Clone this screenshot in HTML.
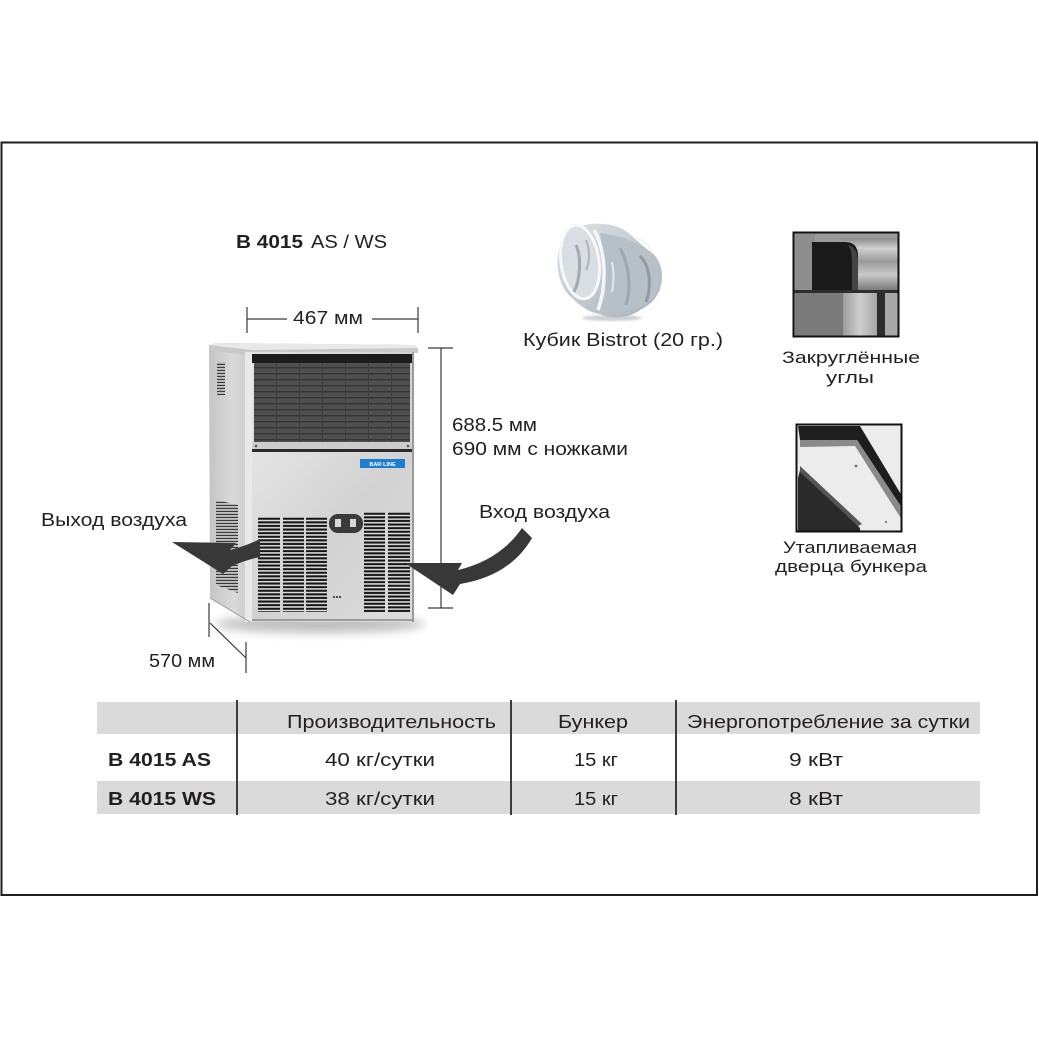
<!DOCTYPE html>
<html><head><meta charset="utf-8">
<style>
html,body{margin:0;padding:0;background:#fff;}
svg{display:block;}
text{font-family:"Liberation Sans","DejaVu Sans",sans-serif;fill:#231f20;}
</style></head><body>
<svg width="1039" height="1039" viewBox="0 0 1039 1039" xmlns="http://www.w3.org/2000/svg">
<defs>
  <pattern id="slat" width="10" height="3.6" patternUnits="userSpaceOnUse" y="517">
    <rect width="10" height="3.6" fill="#e2e2e2"/><rect y="0.7" width="10" height="2.1" fill="#141414"/>
  </pattern>
  <pattern id="slat2" width="10" height="3.6" patternUnits="userSpaceOnUse" y="512">
    <rect width="10" height="3.6" fill="#e2e2e2"/><rect y="0.7" width="10" height="2.1" fill="#141414"/>
  </pattern>
  <pattern id="svent" width="10" height="3" patternUnits="userSpaceOnUse">
    <rect width="10" height="3" fill="#cfcfcf"/><rect y="0.8" width="10" height="1.3" fill="#3a3a3a"/>
  </pattern>
  <pattern id="grill" width="23" height="6" patternUnits="userSpaceOnUse" x="254" y="363">
    <rect width="23" height="6" fill="#4f4f4f"/>
    <rect y="4" width="23" height="1.4" fill="#343434"/>
    <rect x="22" width="1" height="6" fill="#3c3c3c"/>
  </pattern>
  <linearGradient id="side" x1="0" x2="1" y1="0" y2="0">
    <stop offset="0" stop-color="#c4c4c4"/><stop offset="0.6" stop-color="#dadada"/><stop offset="1" stop-color="#c9c9c9"/>
  </linearGradient>
  <linearGradient id="front" x1="0" x2="1" y1="0" y2="1">
    <stop offset="0" stop-color="#e4e4e4"/><stop offset="0.5" stop-color="#d2d2d2"/><stop offset="1" stop-color="#dcdcdc"/>
  </linearGradient>
  <linearGradient id="ice" x1="0" x2="1" y1="0" y2="1">
    <stop offset="0" stop-color="#dfe4e8"/><stop offset="0.5" stop-color="#c2cad0"/><stop offset="1" stop-color="#aab3ba"/>
  </linearGradient>
  <linearGradient id="steel" x1="0" x2="0" y1="0" y2="1">
    <stop offset="0" stop-color="#8a8a8a"/><stop offset="0.2" stop-color="#d0d0d0"/><stop offset="0.45" stop-color="#9a9a9a"/><stop offset="0.7" stop-color="#c8c8c8"/><stop offset="1" stop-color="#7c7c7c"/>
  </linearGradient>
  <linearGradient id="steelv" x1="0" x2="1" y1="0" y2="0">
    <stop offset="0" stop-color="#9c9c9c"/><stop offset="0.5" stop-color="#cfcfcf"/><stop offset="1" stop-color="#a6a6a6"/>
  </linearGradient>
  <filter id="blur" x="-20%" y="-50%" width="140%" height="200%"><feGaussianBlur stdDeviation="5"/></filter>
  <filter id="sblur"><feGaussianBlur stdDeviation="1"/></filter>
</defs>

<!-- outer frame -->
<rect x="1.5" y="142.5" width="1035.5" height="752.5" fill="none" stroke="#1e1e1e" stroke-width="2"/>

<!-- Title -->
<text x="236" y="248" font-size="18" font-weight="bold" textLength="67" lengthAdjust="spacingAndGlyphs">B 4015</text>
<text x="311" y="248" font-size="18" textLength="76" lengthAdjust="spacingAndGlyphs">AS / WS</text>

<!-- dimension lines -->
<g stroke="#3a3a3a" stroke-width="1.2" fill="none">
  <line x1="247" y1="307" x2="247" y2="333"/>
  <line x1="418" y1="307" x2="418" y2="333"/>
  <line x1="247" y1="319" x2="287" y2="319"/>
  <line x1="372" y1="319" x2="418" y2="319"/>
  <line x1="441" y1="348" x2="441" y2="608"/>
  <line x1="428" y1="348" x2="453" y2="348"/>
  <line x1="428" y1="608" x2="453" y2="608"/>
  <line x1="209" y1="603" x2="209" y2="637"/>
  <line x1="210" y1="623" x2="246" y2="658"/>
  <line x1="246" y1="642" x2="246" y2="673"/>
</g>
<text x="293" y="324" font-size="18" textLength="70" lengthAdjust="spacingAndGlyphs">467 мм</text>

<!-- machine shadow -->
<ellipse cx="320" cy="624" rx="105" ry="9" fill="#000" opacity="0.25" filter="url(#blur)"/>

<!-- left side panel -->
<polygon points="209,347 250,352 250,622 210,598" fill="url(#side)"/>
<rect x="217" y="362" width="8" height="33" fill="url(#svent)"/>
<polygon points="216,500 238,505 238,593 216,585" fill="url(#svent)"/>
<!-- lid -->
<polygon points="209,345 216,343 414,345 418,348 418,353 252,356 209,350" fill="#c9c9c9"/>
<polygon points="209,345 216,343 414,345 418,348 252,350" fill="#e8e8e8"/>
<!-- front -->
<rect x="245" y="352" width="169" height="270" fill="url(#front)"/>
<rect x="245" y="352" width="7" height="270" fill="#e9e9e9"/>
<rect x="412" y="352" width="2" height="270" fill="#9a9a9a"/>
<rect x="252" y="354" width="160" height="9" fill="#1c1c1c"/>
<rect x="254" y="363" width="156" height="79" fill="url(#grill)"/>
<rect x="252" y="442" width="160" height="7" fill="#cdcdcd"/>
<circle cx="256" cy="446" r="1.3" fill="#555"/>
<circle cx="408" cy="446" r="1.3" fill="#555"/>
<rect x="252" y="449" width="160" height="3" fill="#2a2a2a"/>
<rect x="252" y="452" width="160" height="168" fill="url(#front)"/>
<!-- badge -->
<rect x="360" y="459" width="45" height="9" fill="#1f7dd0"/>
<text x="382.5" y="466" font-size="5.5" font-weight="bold" text-anchor="middle" style="fill:#fff">BAR·LINE</text>
<!-- grilles -->
<rect x="258" y="517" width="22" height="95" fill="url(#slat)"/>
<rect x="283" y="517" width="21" height="95" fill="url(#slat)"/>
<rect x="306" y="517" width="21" height="95" fill="url(#slat)"/>
<rect x="364" y="512" width="21" height="100" fill="url(#slat2)"/>
<rect x="388" y="512" width="22" height="100" fill="url(#slat2)"/>
<!-- control -->
<rect x="329" y="514" width="34" height="19" rx="9" fill="#3a3a3a"/>
<rect x="335" y="519" width="6" height="8" fill="#d8d8d8"/>
<rect x="350" y="519" width="6" height="8" fill="#d8d8d8"/>
<circle cx="334" cy="597" r="1" fill="#222"/><circle cx="337" cy="597" r="1" fill="#222"/><circle cx="340" cy="597" r="1" fill="#222"/>
<line x1="252" y1="620" x2="413" y2="620" stroke="#8a8a8a" stroke-width="1.5"/>
<line x1="210" y1="598" x2="250" y2="622" stroke="#999" stroke-width="1"/>

<!-- arrows -->
<path d="M172,542 L236,543 L230,550 Q246,546 260,539 L260,557 Q246,560 232,566 L223,574 Z" fill="#383838"/>
<path d="M405,563 L462,563 L458,570 Q500,560 522,528 L532,538 Q510,576 460,584 L453,595 Z" fill="#383838"/>

<!-- labels around machine -->
<text x="452" y="431" font-size="18" textLength="85" lengthAdjust="spacingAndGlyphs">688.5 мм</text>
<text x="452" y="455" font-size="18" textLength="176" lengthAdjust="spacingAndGlyphs">690 мм с ножками</text>
<text x="41" y="526" font-size="18" textLength="146" lengthAdjust="spacingAndGlyphs">Выход воздуха</text>
<text x="479" y="518" font-size="18" textLength="131" lengthAdjust="spacingAndGlyphs">Вход воздуха</text>
<text x="149" y="667" font-size="18" textLength="66" lengthAdjust="spacingAndGlyphs">570 мм</text>

<!-- ice cube -->
<g>
  <ellipse cx="612" cy="318" rx="30" ry="3" fill="#9aa3aa" opacity="0.5" filter="url(#sblur)"/>
  <path d="M590,224 C610,222 625,228 634,238 L648,250 C660,256 664,272 661,285 C658,298 650,305 640,310 C630,318 612,320 600,314 C590,313 580,306 572,298 C560,288 556,270 558,255 C560,238 572,226 590,224 Z" fill="url(#ice)"/>
  <path d="M600,233 C638,238 650,252 658,262 L660,290 C650,305 635,312 610,312 C605,290 604,255 600,233 Z" fill="#b7c0c7"/>
  <ellipse cx="580" cy="262" rx="19" ry="37" transform="rotate(-8 580 262)" fill="#d8dee2" stroke="#f6f8f9" stroke-width="3"/>
  <path d="M594,230 C606,250 607,285 598,310" fill="none" stroke="#f4f6f8" stroke-width="3.5"/>
  <path d="M576,245 C582,258 580,280 574,292" fill="none" stroke="#8b959d" stroke-width="3" opacity="0.7"/>
  <path d="M586,240 C590,250 590,262 586,270" fill="none" stroke="#9aa4ab" stroke-width="2" opacity="0.7"/>
  <path d="M620,248 C628,262 632,285 626,305" fill="none" stroke="#8d979f" stroke-width="3" opacity="0.6"/>
  <path d="M640,256 C650,266 652,286 646,302" fill="none" stroke="#77828a" stroke-width="3" opacity="0.6"/>
  <path d="M612,262 C614,272 614,282 612,292" fill="none" stroke="#eef1f3" stroke-width="2" opacity="0.8"/>
  <path d="M636,238 C644,240 650,246 652,252" fill="none" stroke="#f2f4f6" stroke-width="2"/>
</g>
<text x="523" y="346" font-size="18" textLength="200" lengthAdjust="spacingAndGlyphs">Кубик Bistrot (20 гр.)</text>

<!-- rounded corners photo -->
<g>
  <rect x="793" y="232" width="106" height="105" fill="#9a9a9a"/>
  <rect x="840" y="238" width="59" height="52" fill="url(#steel)"/>
  <rect x="795" y="234" width="20" height="56" fill="#8e8e8e"/>
  <path d="M812,292 L812,242 L845,242 Q858,242 858,256 L858,292 Z" fill="#1a1a1a"/>
  <path d="M848,245 Q858,248 858,262 L858,292 L852,292 L852,262 Q852,250 848,245 Z" fill="#444"/>
  <rect x="793" y="290" width="106" height="3" fill="#2e2e2e"/>
  <rect x="795" y="293" width="48" height="44" fill="#7b7b7b"/>
  <rect x="843" y="293" width="34" height="44" fill="url(#steelv)"/>
  <rect x="877" y="293" width="8" height="44" fill="#2c2c2c"/>
  <rect x="885" y="293" width="14" height="44" fill="#a8a8a8"/>
  <rect x="793.5" y="232.5" width="105" height="104" fill="none" stroke="#111" stroke-width="2"/>
</g>
<text x="782" y="363" font-size="17" textLength="138" lengthAdjust="spacingAndGlyphs">Закруглённые</text>
<text x="826" y="383" font-size="17" textLength="48" lengthAdjust="spacingAndGlyphs">углы</text>

<!-- door photo -->
<g>
  <rect x="796" y="424" width="106" height="108" fill="#ececec"/>
  <polygon points="798,426 860,426 902,496 902,508 857,440 800,440" fill="#1e1e1e"/>
  <polygon points="800,440 857,440 902,508 902,520 855,446 800,447" fill="#8a8a8a"/>
  <polygon points="800,470 860,528 860,532 798,532 798,478" fill="#2a2a2a"/>
  <polygon points="800,466 862,524 858,526 800,472" fill="#555"/>
  <circle cx="856" cy="466" r="1.5" fill="#888"/>
  <circle cx="886" cy="522" r="1.2" fill="#888"/>
  <rect x="796.5" y="424.5" width="105" height="107" fill="none" stroke="#111" stroke-width="2"/>
</g>
<text x="783" y="553" font-size="17" textLength="134" lengthAdjust="spacingAndGlyphs">Утапливаемая</text>
<text x="775" y="572" font-size="17" textLength="152" lengthAdjust="spacingAndGlyphs">дверца бункера</text>

<!-- table -->
<rect x="97" y="702" width="883" height="32" fill="#dadada"/>
<rect x="97" y="781" width="883" height="33" fill="#dadada"/>
<g stroke="#3c3c3c" stroke-width="2">
  <line x1="237" y1="700" x2="237" y2="815"/>
  <line x1="511" y1="700" x2="511" y2="815"/>
  <line x1="676" y1="700" x2="676" y2="815"/>
</g>
<text x="287" y="728" font-size="18" textLength="209" lengthAdjust="spacingAndGlyphs">Производительность</text>
<text x="558" y="728" font-size="18" textLength="70" lengthAdjust="spacingAndGlyphs">Бункер</text>
<text x="687" y="728" font-size="18" textLength="283" lengthAdjust="spacingAndGlyphs">Энергопотребление за сутки</text>

<text x="108" y="766" font-size="18" font-weight="bold" textLength="103" lengthAdjust="spacingAndGlyphs">B 4015 AS</text>
<text x="325" y="766" font-size="18" textLength="110" lengthAdjust="spacingAndGlyphs">40 кг/сутки</text>
<text x="574" y="766" font-size="18" textLength="44" lengthAdjust="spacingAndGlyphs">15 кг</text>
<text x="789" y="766" font-size="18" textLength="54" lengthAdjust="spacingAndGlyphs">9 кВт</text>

<text x="108" y="805" font-size="18" font-weight="bold" textLength="108" lengthAdjust="spacingAndGlyphs">B 4015 WS</text>
<text x="325" y="805" font-size="18" textLength="110" lengthAdjust="spacingAndGlyphs">38 кг/сутки</text>
<text x="574" y="805" font-size="18" textLength="44" lengthAdjust="spacingAndGlyphs">15 кг</text>
<text x="789" y="805" font-size="18" textLength="54" lengthAdjust="spacingAndGlyphs">8 кВт</text>
</svg>
</body></html>
